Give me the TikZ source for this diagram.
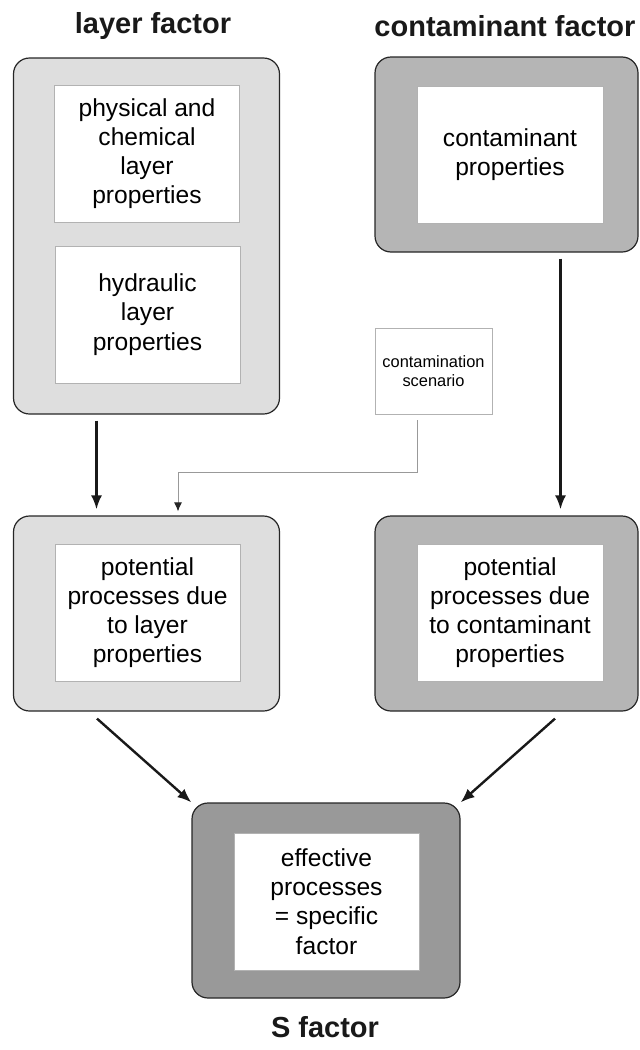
\documentclass[tikz,border=0pt]{standalone}
\usepackage{fontspec}
\setmainfont{Liberation Sans}
\usetikzlibrary{arrows,positioning,arrows.meta}

\definecolor{grisclaro}{gray}{0.87}
\definecolor{grismedio}{gray}{0.71}
\definecolor{grisoscuro}{gray}{0.60}

\begin{document}
\begin{tikzpicture}[x=0.5pt,y=-0.5pt]

	\tikzstyle{marco}=[draw=black!85, line width=0.6pt, rounded corners=8pt, minimum width=133pt, inner sep=0pt]
	\tikzstyle{caja}=[draw=black!30, line width=0.4pt, fill=white, align=center, minimum width=92.5pt, minimum height=68.5pt, inner sep=0pt, font=\fontsize{12.3}{14.6}\selectfont]
	\tikzstyle{titulo}=[font=\fontsize{14.5}{17}\selectfont\bfseries, text=black!90]
	\tikzstyle{flecha}=[-{Latex[length=7pt,width=5.5pt]}, line width=1.2pt, black!90]
	\tikzstyle{linea}=[-{Latex[length=4.5pt,width=4pt, black!85]}, line width=0.45pt, black!40]

	\useasboundingbox (0,0) rectangle (640,1050);

	\coordinate (t_1) at (153, 26);
	\coordinate (t_2) at (505, 26);
	\coordinate (t_3) at (325, 1027);

	\coordinate (f_1) at (146.5, 236); % CAPA
	\coordinate (f_2) at (506.5, 154.5); % CONTAMINANTE
	\coordinate (f_3) at (146.5, 613.5); % PROCESOS CAPA
	\coordinate (f_4) at (506.5, 613.5); % PROCESOS CONTAMINANTE
	\coordinate (f_5) at (326, 900.5); % FACTOR S

	\node[titulo] (t_1) at (t_1) {layer factor};
	\node[titulo] (t_2) at (t_2) {contaminant factor};
	\node[titulo] (t_3) at (t_3) {S factor};

	\node[marco, fill=grisclaro, minimum height=178pt] (f_1) at (f_1) {};
	\node[marco, fill=grismedio, minimum width=131.5pt, minimum height=97.5pt] (f_2) at (f_2) {};
	\node[marco, fill=grisclaro, minimum height=97.5pt] (f_3) at (f_3) {};
	\node[marco, fill=grismedio, minimum width=131.5pt, minimum height=97.5pt] (f_4) at (f_4) {};
	\node[marco, fill=grisoscuro, minimum width=134pt, minimum height=97.5pt] (f_5) at (f_5) {};

	\node[caja] (c_1_1) at (147, 153.5) {physical and\\chemical\\layer\\properties};
	\node[caja] (c_1_2) at (147.5, 314.5) {hydraulic\\layer\\properties};
	\node[caja, minimum width=93pt] (c_2) at (510, 155) {contaminant\\properties};
	\node[caja] (c_3) at (147.5, 612.5) {potential\\processes due\\to layer\\properties};
	\node[caja, minimum width=93pt] (c_4) at (510, 612.5) {potential\\processes due\\to contaminant\\properties};
	\node[caja] (c_5) at (326.5, 901.5) {effective\\processes\\= specific\\factor};

	\node[caja, minimum width=58.5pt, minimum height=43pt, font=\fontsize{8.2}{9.6}\selectfont] (esc) at (433.5, 371) {contamination\\scenario};

	\draw[flecha] ([xshift=-25pt, yshift=-3pt]f_1.south) -- ([xshift=-25pt, yshift=3pt]f_3.north);
	\draw[flecha] ([xshift=27pt, yshift=-3pt]f_2.south) -- ([xshift=27pt, yshift=3pt]f_4.north);
	\draw[linea] ([xshift=-8.25pt, yshift=-3pt]esc.south) -- ++(0,52) -| ([xshift=15.75pt, yshift=2pt]f_3.north);
	\draw[flecha] ([xshift=-24.75pt, yshift=-3.5pt]f_3.south) -- (f_5.north west);
	\draw[flecha] ([xshift=24.25pt, yshift=-3.5pt]f_4.south) -- (f_5.north east);

\end{tikzpicture}
\end{document}
